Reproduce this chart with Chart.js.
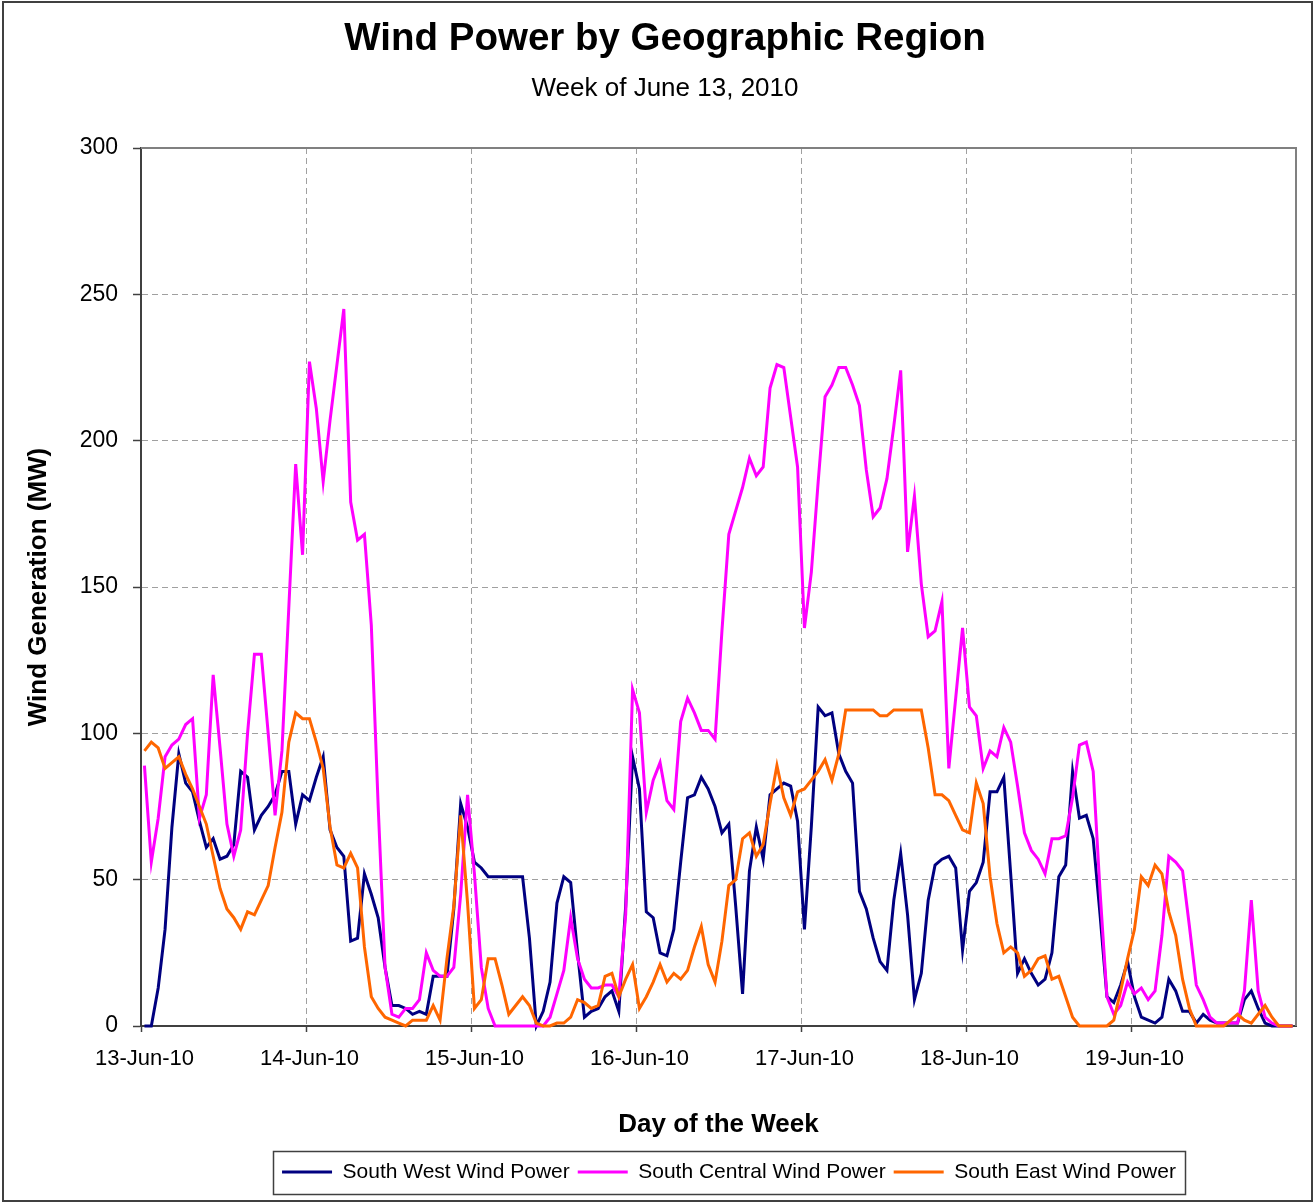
<!DOCTYPE html>
<html>
<head>
<meta charset="utf-8">
<script src="https://cdn.jsdelivr.net/npm/chart.js@4.4.1/dist/chart.umd.min.js"></script>
<style>
html,body{margin:0;padding:0;background:#fff;}
#wrap{width:1315px;height:1203px;}
</style>
</head>
<body>
<div id="wrap"><canvas id="c" width="1315" height="1203"></canvas></div>
<script>
// ---------- DATA (hourly, 13-Jun-10 00:00 .. 19-Jun-10 23:00) ----------
const dayLabels = ['13-Jun-10','14-Jun-10','15-Jun-10','16-Jun-10','17-Jun-10','18-Jun-10','19-Jun-10'];
const seriesNames = ['South West Wind Power','South Central Wind Power','South East Wind Power'];

const southWest = [
  0,0,13,33,68,93,83,80,70,61,64,57,58,62,87,85,67,72,75,79,87,87,69,79,
  77,85,92,67,61,58,29,30,52,45,37,20,7,7,6,4,5,4,17,17,17,40,76,68,
  56,54,51,51,51,51,51,51,30,0,5,15,42,51,49,25,3,5,6,10,12,5,41,92,
  81,39,37,25,24,33,56,78,79,85,81,75,66,69,41,11,53,68,57,79,81,83,82,70,
  33,68,109,106,107,93,87,83,46,40,30,22,19,43,59,38,9,18,43,55,57,58,54,26,
  46,49,56,80,80,85,52,18,23,18,14,16,25,51,55,87,71,72,64,38,10,8,14,22,
  10,3,2,1,3,16,12,5,5,1,4,2,1,1,1,1,9,12,6,1,0,0,0,0
];
const southCentral = [
  89,56,71,92,96,98,103,105,71,79,120,95,69,58,67,100,127,127,100,72,94,143,192,161,
  227,211,186,207,226,245,179,166,168,137,75,20,4,3,6,6,9,25,19,17,17,20,45,79,
  52,20,6,0,0,0,0,0,0,0,0,3,11,19,37,23,16,13,13,14,14,10,38,115,
  107,73,84,90,77,74,104,112,107,101,101,98,135,168,176,184,194,188,191,218,226,225,208,191,
  136,155,186,215,219,225,225,219,212,190,174,177,187,205,224,162,181,151,133,135,145,88,112,136,
  109,106,88,94,92,102,97,82,66,60,57,52,64,64,65,78,96,97,87,46,10,4,7,15,
  11,13,9,12,31,58,56,53,34,14,9,3,1,1,1,1,12,43,12,3,1,0,0,0
];
const southEast = [
  94,97,95,88,90,92,86,81,75,69,58,47,40,37,33,39,38,43,48,61,73,97,107,105,
  105,97,88,68,55,54,59,54,27,10,6,3,2,1,0,2,2,2,7,2,23,41,72,42,
  6,9,23,23,14,4,7,10,7,1,0,0,1,1,3,9,8,6,7,17,18,10,16,21,
  6,10,15,21,15,18,16,19,27,34,21,15,29,48,50,64,66,58,62,76,89,78,72,80,
  81,84,87,91,84,93,108,108,108,108,108,106,106,108,108,108,108,108,95,79,79,77,72,67,
  66,83,76,51,35,25,27,25,17,19,23,24,16,17,10,3,0,0,0,0,0,2,12,23,
  33,51,48,55,52,39,31,16,6,0,0,0,0,0,2,4,2,1,4,7,3,0,0,0
];
const yTicks = {min: 0, max: 300, step: 50};

// ---------- LAYOUT / STYLE ----------
const FONT = "'Liberation Sans', Arial, Helvetica, sans-serif";
const PLOT = {left: 141, right: 1296, top: 148, bottom: 1026};
const PAD = {left: 8, right: 19, top: 0, bottom: 10.5};
const TITLE_CX = 665, LEGEND_CX = 729;
const AXIS = '#404040', GRID = '#a0a0a0', FRAME = '#808080';
const HOURS = 24;

const categories = dayLabels.flatMap(d =>
  Array.from({length: HOURS}, (_, h) => d + ' ' + String(h).padStart(2, '0') + ':00'));

const decor = {
  id: 'decor',
  beforeDraw(chart) {
    const ctx = chart.ctx;
    ctx.save();
    ctx.fillStyle = '#fff';
    ctx.fillRect(0, 0, chart.width, chart.height);
    ctx.restore();
    chart.boxes.forEach(b => {
      if (b === chart.legend) {
        const w = b.right - b.left;
        b.left = LEGEND_CX - w / 2; b.right = b.left + w;
      } else if (b.options && typeof b.options.text === 'string') {
        const w = b.right - b.left;
        b.left = TITLE_CX - w / 2; b.right = b.left + w;
      }
    });
  },
  beforeDatasetsDraw(chart) {
    const {ctx, chartArea: a} = chart;
    ctx.save();
    ctx.strokeStyle = FRAME;
    ctx.lineWidth = 2;
    ctx.beginPath();
    ctx.moveTo(a.left, a.top);
    ctx.lineTo(a.right, a.top);
    ctx.lineTo(a.right, a.bottom);
    ctx.stroke();
    ctx.restore();
  },
  afterDraw(chart) {
    const ctx = chart.ctx;
    const lg = chart.legend;
    if (lg && lg.lineWidths && lg.lineWidths.length) {
      const pad = lg.options.labels.padding;
      const fs = lg.options.labels.font.size;
      const bw = lg.lineWidths[0] - pad;
      const cx = (lg.left + lg.right) / 2;
      const top = lg.top + pad;
      ctx.save();
      ctx.strokeStyle = '#404040';
      ctx.lineWidth = 1.5;
      ctx.strokeRect(Math.round(cx - bw / 2 - 9) + 0.5, Math.round(top - 11) + 0.5,
                     Math.round(bw + 18), Math.round(fs + 22));
      ctx.restore();
    }
    ctx.save();
    ctx.strokeStyle = '#404040';
    ctx.lineWidth = 2;
    ctx.strokeRect(3, 2, chart.width - 6, chart.height - 4);
    ctx.restore();
  }
};

const colors = ['#000080', '#FF00FF', '#FF6600'];
const seriesData = [southWest, southCentral, southEast];

new Chart(document.getElementById('c'), {
  type: 'line',
  data: {
    labels: categories,
    datasets: seriesData.map((d, i) => ({
      label: seriesNames[i],
      data: d,
      borderColor: colors[i],
      backgroundColor: colors[i],
      borderWidth: 3,
      pointRadius: 0,
      pointHoverRadius: 0,
      tension: 0,
      fill: false,
      clip: false,
      order: 3 - i
    }))
  },
  options: {
    responsive: false,
    devicePixelRatio: 1,
    animation: false,
    events: [],
    layout: {padding: PAD},
    plugins: {
      title: {
        display: true,
        text: 'Wind Power by Geographic Region',
        color: '#000',
        font: {family: FONT, size: 38.5, weight: 'bold'},
        padding: {top: 15.9, bottom: 0}
      },
      subtitle: {
        display: true,
        text: 'Week of June 13, 2010',
        color: '#000',
        font: {family: FONT, size: 26, weight: 'normal'},
        padding: {top: 11.3, bottom: 43.4}
      },
      legend: {
        display: true,
        position: 'bottom',
        labels: {
          usePointStyle: true,
          pointStyle: 'line',
          pointStyleWidth: 50,
          color: '#000',
          font: {family: FONT, size: 21},
          padding: 8,
          sort: (a, b) => a.datasetIndex - b.datasetIndex
        }
      },
      tooltip: {enabled: false}
    },
    scales: {
      x: {
        type: 'category',
        offset: true,
        grid: {
          offset: true,
          color: c => (c.index % HOURS === 0 && c.index > 0) ? GRID : 'rgba(0,0,0,0)',
          lineWidth: 1,
          tickLength: 6,
          tickWidth: 1.5,
          tickColor: c => (c.index % HOURS === 0) ? AXIS : 'rgba(0,0,0,0)'
        },
        border: {display: true, color: AXIS, width: 2, dash: [6, 4]},
        ticks: {
          autoSkip: false,
          maxRotation: 0,
          minRotation: 0,
          padding: 14,
          color: '#000',
          font: {family: FONT, size: 22},
          callback: (v, i) => (i % HOURS === 0) ? dayLabels[i / HOURS] : ''
        },
        title: {
          display: true,
          text: 'Day of the Week',
          color: '#000',
          font: {family: FONT, size: 26, weight: 'bold'},
          padding: {top: 0, bottom: 13}
        },
        afterFit: s => {
          const lh = s.chart.legend ? s.chart.legend.height : 0;
          s.height = s.chart.height - PAD.bottom - lh - PLOT.bottom;
        }
      },
      y: {
        min: yTicks.min,
        max: yTicks.max,
        ticks: {
          stepSize: yTicks.step,
          padding: 15,
          color: '#000',
          font: {family: FONT, size: 23}
        },
        grid: {
          color: c => (c.tick && c.tick.value > yTicks.min && c.tick.value < yTicks.max) ? GRID : 'rgba(0,0,0,0)',
          lineWidth: 1,
          tickLength: 8,
          tickWidth: 1.5,
          tickColor: AXIS
        },
        border: {display: true, color: AXIS, width: 2, dash: [6, 4]},
        title: {
          display: true,
          text: 'Wind Generation (MW)',
          color: '#000',
          font: {family: FONT, size: 26, weight: 'bold'},
          padding: {top: 15.4, bottom: 0}
        },
        afterFit: s => { s.width = PLOT.left - PAD.left; }
      }
    }
  },
  plugins: [decor]
});
</script>
</body>
</html>
